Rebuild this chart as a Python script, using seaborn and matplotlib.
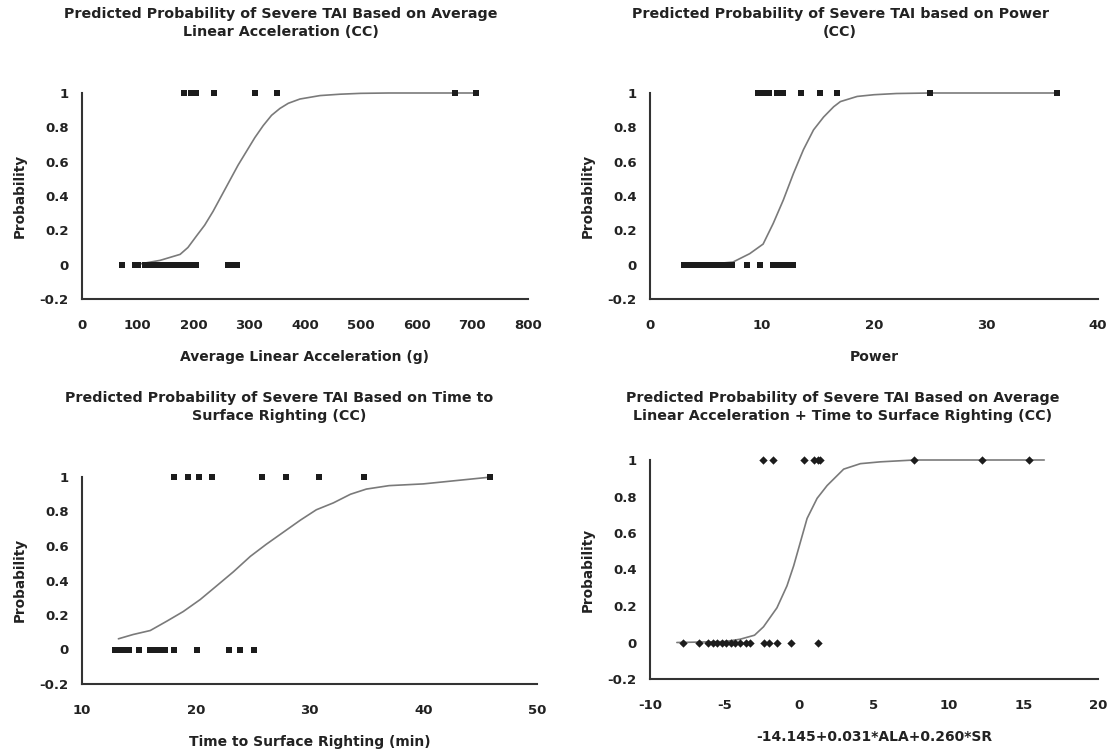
import matplotlib
matplotlib.use('Agg')
import matplotlib.pyplot as plt
import pandas as pd
import seaborn as sns

sns.set_style('white')
plt.rcParams['font.family'] = ['DejaVu Sans']
plt.rcParams['font.weight'] = 'bold'
plt.rcParams['axes.unicode_minus'] = False

# --- Dados ---
# Painel 1: aceleração linear média
ala_sev = [183, 195, 205, 237, 310, 349, 669, 707]
ala_non = [72, 95, 100, 113, 118, 123, 128, 133, 138, 143, 148, 153, 158,
           163, 168, 173, 178, 183, 188, 193, 198, 204, 262, 270, 278]
ala_curve_x = [105, 140, 176, 190, 206, 220, 235, 250, 265, 280, 295, 310,
               325, 340, 355, 370, 391, 427, 463, 500, 550, 710]
ala_curve_p = [0.005, 0.025, 0.06, 0.10, 0.17, 0.23, 0.31, 0.40, 0.49, 0.58,
               0.66, 0.74, 0.81, 0.87, 0.91, 0.94, 0.965, 0.985, 0.993,
               0.998, 1.0, 1.0]

# Painel 2: potência
pow_sev = [9.6, 10.1, 10.6, 11.3, 11.9, 13.5, 15.2, 16.7, 25.0, 36.3]
pow_non = [3.0, 3.4, 3.8, 4.2, 4.6, 5.0, 5.4, 5.8, 6.2, 6.6, 7.0, 7.3,
           8.7, 9.8, 11.0, 11.5, 12.0, 12.4, 12.8]
pow_curve_x = [3.0, 5.5, 7.4, 8.9, 10.1, 11.0, 11.9, 12.8, 13.7, 14.6, 15.5,
               16.4, 17.0, 18.5, 20.0, 22.0, 25.0, 36.5]
pow_curve_p = [0.0, 0.004, 0.015, 0.064, 0.12, 0.24, 0.376, 0.53, 0.67,
               0.785, 0.86, 0.92, 0.95, 0.98, 0.99, 0.997, 1.0, 1.0]

# Painel 3: tempo até o endireitamento
tsr_sev = [18.1, 19.35, 20.3, 21.4, 25.8, 27.9, 30.8, 34.8, 45.9]
tsr_non = [12.9, 13.3, 13.7, 14.1, 15.0, 16.0, 16.4, 16.8, 17.3, 18.1,
           20.1, 22.9, 23.9, 25.15]
tsr_curve_x = [13.2, 14.5, 16.0, 17.45, 18.9, 20.4, 21.8, 23.3, 24.8, 26.2,
               27.7, 29.2, 30.6, 32.1, 33.6, 35.0, 37.0, 40.0, 43.0, 46.0]
tsr_curve_p = [0.062, 0.087, 0.11, 0.164, 0.22, 0.29, 0.367, 0.45, 0.54,
               0.61, 0.68, 0.75, 0.81, 0.85, 0.90, 0.93, 0.95, 0.96, 0.98,
               1.0]

# Painel 4: modelo combinado
comb_sev = [-2.44, -1.77, 0.29, 0.96, 1.23, 1.41, 7.7, 12.2, 15.4]
comb_non = [-7.77, -6.69, -6.1, -5.8, -5.5, -5.2, -4.9, -4.6, -4.3, -4.0,
            -3.6, -3.3, -2.35, -2.06, -1.5, -0.54, 1.23]
comb_curve_x = [-8.2, -5.0, -3.96, -3.0, -2.4, -1.5, -0.83, -0.38, 0.07,
                0.52, 1.19, 1.86, 2.97, 4.09, 5.44, 7.7, 16.4]
comb_curve_p = [0.0, 0.005, 0.018, 0.04, 0.086, 0.19, 0.31, 0.42, 0.55,
                0.68, 0.79, 0.86, 0.95, 0.98, 0.99, 1.0, 1.0]

y_ticks = [-0.2, 0, 0.2, 0.4, 0.6, 0.8, 1]
y_tick_labels = ['-0.2', '0', '0.2', '0.4', '0.6', '0.8', '1']

W, H = 1113, 754
fig = plt.figure(figsize=(W / 100, H / 100), dpi=100)


def add_ax(left, top, right, bottom):
    return fig.add_axes([left / W, 1 - bottom / H, (right - left) / W, (bottom - top) / H])


def draw_panel(ax, sev, non, cx, cp, xticks, xlabel, marker, size):
    pts = pd.DataFrame({'x': sev + non, 'y': [1] * len(sev) + [0] * len(non)})
    curve = pd.DataFrame({'x': cx, 'y': cp})
    sns.lineplot(data=curve, x='x', y='y', ax=ax, color='#7a7a7a', lw=1.2,
                 estimator=None, sort=False, clip_on=False, zorder=2)
    sns.scatterplot(data=pts, x='x', y='y', ax=ax, marker=marker, s=size,
                    color='#1c1c1c', linewidth=0, clip_on=False, zorder=3)
    ax.set_xlim(xticks[0], xticks[-1])
    ax.set_ylim(-0.2, 1)
    ax.set_xticks(xticks)
    ax.set_xticklabels([str(t) for t in xticks])
    ax.set_yticks(y_ticks)
    ax.set_yticklabels(y_tick_labels)
    for s in ['top', 'right']:
        ax.spines[s].set_visible(False)
    for s in ['left', 'bottom']:
        ax.spines[s].set_color('#333333')
        ax.spines[s].set_linewidth(1.5)
    ax.tick_params(axis='both', direction='inout', length=7, width=1.2,
                   colors='#333333', labelcolor='#222222', labelsize=9.5)
    ax.tick_params(axis='x', pad=11)
    ax.tick_params(axis='y', pad=6)
    ax.set_xlabel(xlabel, fontsize=10, fontweight='bold', color='#222222', labelpad=13)
    ax.set_ylabel('')


ax1 = add_ax(82, 93, 528, 299)
draw_panel(ax1, ala_sev, ala_non, ala_curve_x, ala_curve_p,
           [0, 100, 200, 300, 400, 500, 600, 700, 800],
           'Average Linear Acceleration (g)', 's', 24)

ax2 = add_ax(650, 93, 1098, 299)
draw_panel(ax2, pow_sev, pow_non, pow_curve_x, pow_curve_p,
           [0, 10, 20, 30, 40], 'Power', 's', 24)

ax3 = add_ax(82, 477, 537, 684)
draw_panel(ax3, tsr_sev, tsr_non, tsr_curve_x, tsr_curve_p,
           [10, 20, 30, 40, 50], 'Time to Surface Righting (min)', 's', 24)

ax4 = add_ax(650, 460, 1098, 679)
draw_panel(ax4, comb_sev, comb_non, comb_curve_x, comb_curve_p,
           [-10, -5, 0, 5, 10, 15, 20], '-14.145+0.031*ALA+0.260*SR', 'D', 18)

# Títulos e rótulos do eixo y
titles = [
    (281, 7, 'Predicted Probability of Severe TAI Based on Average\nLinear Acceleration (CC)'),
    (840, 7, 'Predicted Probability of Severe TAI based on Power\n(CC)'),
    (279, 391, 'Predicted Probability of Severe TAI Based on Time to\nSurface Righting (CC)'),
    (843, 391, 'Predicted Probability of Severe TAI Based on Average\nLinear Acceleration + Time to Surface Righting (CC)'),
]
for x, y, t in titles:
    fig.text(x / W, 1 - y / H, t, ha='center', va='top', fontsize=10.3,
             fontweight='bold', color='#222222', linespacing=1.4)

for x, yc in [(20, 196), (588, 196), (20, 580), (588, 570)]:
    fig.text(x / W, 1 - yc / H, 'Probability', rotation=90, ha='center',
             va='center', fontsize=9.8, fontweight='bold', color='#222222')

fig.savefig('out.png', dpi=100)
